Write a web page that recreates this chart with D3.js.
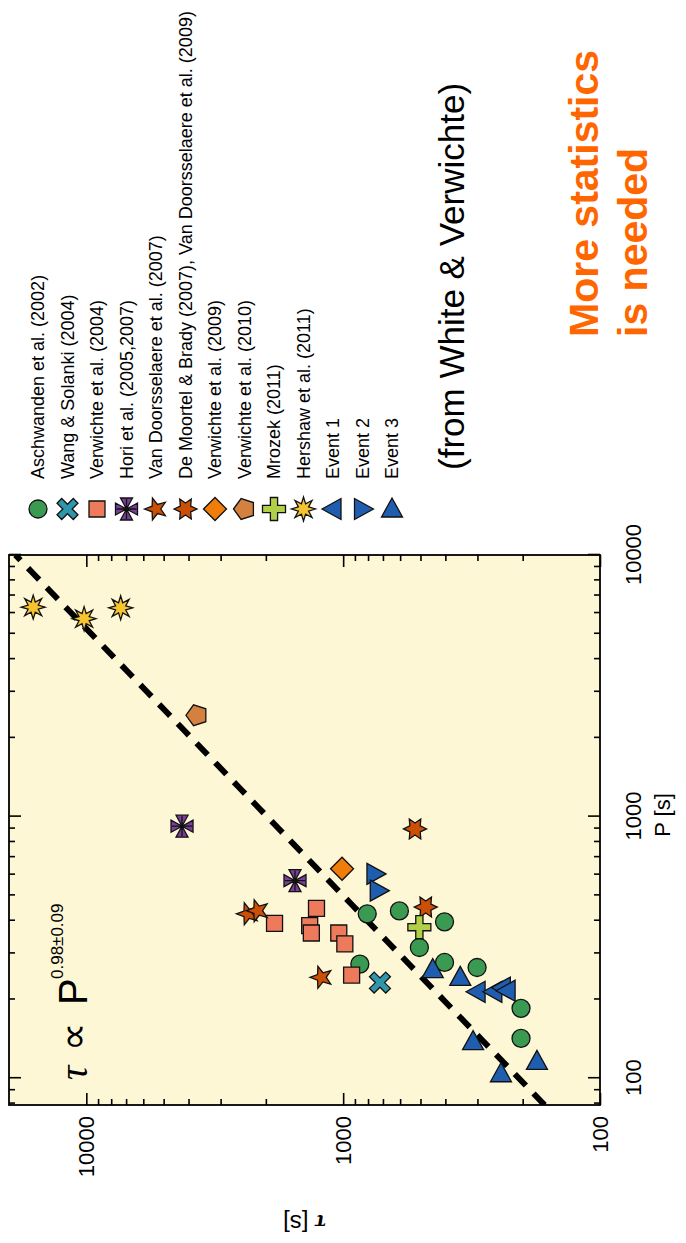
<!DOCTYPE html>
<html>
<head>
<meta charset="utf-8">
<script src="https://cdn.jsdelivr.net/npm/d3@7"></script>
<style>
body { margin: 0; background: #fff; }
svg { display: block; }
</style>
</head>
<body>
<div id="chart"></div>
<script>
// DATA: [P (s), tau (s)] pairs
const seriesNames = [
    "Aschwanden et al. (2002)",
    "Wang & Solanki (2004)",
    "Verwichte et al. (2004)",
    "Hori et al. (2005,2007)",
    "Van Doorsselaere et al. (2007)",
    "De Moortel & Brady (2007), Van Doorsselaere et al. (2009)",
    "Verwichte et al. (2009)",
    "Verwichte et al. (2010)",
    "Mrozek (2011)",
    "Hershaw et al. (2011)",
    "Event 1",
    "Event 2",
    "Event 3"
];
const aschwanden = [[425, 806], [436, 604], [396, 403], [316, 505], [273, 861], [277, 403], [265, 301], [185, 203], [142, 203]];
const wangSolanki = [[232, 719]];
const verwichte2004 = [[446, 1270], [391, 1850], [383, 1350], [359, 1330], [359, 1040], [326, 985], [248, 927]];
const hori = [[919, 4240], [569, 1540]];
const vanDoorsselaere2007 = [[425, 2350], [437, 2150], [243, 1215]];
const deMoortelBrady = [[897, 525], [451, 477]];
const verwichte2009 = [[632, 1010]];
const verwichte2010 = [[2440, 3710]];
const mrozek = [[378, 505]];
const hershaw = [[6320, 16100], [5710, 10200], [6280, 7350]];
const event1 = [[214, 301], [214, 259], [222, 240], [216, 230]];
const event2 = [[604, 752], [521, 730]];
const event3 = [[260, 448], [243, 350], [138, 312], [104, 243], [116, 176]];

const fitCoef = 2.27, fitExp = 0.98;   // tau = 2.27 * P^0.98
const pMajor = [100, 1000, 10000];
const pMinor = [80, 90, 200, 300, 400, 500, 600, 700, 800, 900, 2000, 3000, 4000, 5000, 6000, 7000, 8000, 9000];
const tauMajor = [100, 1000, 10000];
const tauMinor = [200, 300, 400, 500, 600, 700, 800, 900, 2000, 3000, 4000, 5000, 6000, 7000, 8000, 9000];

const allSeries = [aschwanden, wangSolanki, verwichte2004, hori, vanDoorsselaere2007, deMoortelBrady,
    verwichte2009, verwichte2010, mrozek, hershaw, event1, event2, event3];

// marker styles (shape, fill)
const markerStyle = [
    ["circle", "#3a9a52"], ["xcross", "#2f97ab"], ["square", "#ee7a5c"], ["maltese", "#7a3f98"],
    ["star5", "#cc4f06"], ["star6", "#cc4f06"], ["diamond", "#f07d0a"], ["pentagon", "#d4803e"],
    ["plus", "#b2cf48"], ["sun", "#f6c431"], ["triLeft", "#1f5eae"], ["triRight", "#1f5eae"], ["triUp", "#1f5eae"]
];

// SHAPES (drawn in screen orientation)
const poly = p => "M" + p.map(d => d[0].toFixed(2) + "," + d[1].toFixed(2)).join("L") + "Z";
function starPts(n, ro, ri, a0) {
    const p = [];
    for (let k = 0; k < 2 * n; k++) {
        const r = k % 2 ? ri : ro, a = a0 + k * Math.PI / n;
        p.push([r * Math.cos(a), r * Math.sin(a)]);
    }
    return p;
}
function plusPts(a, t) {
    return [[-t, -a], [t, -a], [t, -t], [a, -t], [a, t], [t, t], [t, a], [-t, a], [-t, t], [-a, t], [-a, -t], [-t, -t]];
}
function shapePath(s) {
    switch (s) {
        case "circle": return "M-9,0A9,9 0 1,1 9,0A9,9 0 1,1 -9,0Z";
        case "xcross": return poly(plusPts(11.5, 3.3).map(([x, y]) => [(x - y) * Math.SQRT1_2, (x + y) * Math.SQRT1_2]));
        case "square": return poly([[-8, -8], [8, -8], [8, 8], [-8, 8]]);
        case "maltese": return [0, 1, 2, 3].map(k => {
            const a = k * Math.PI / 2, c = Math.cos(a), s2 = Math.sin(a);
            const pts = [[0, 0], [11, -6], [11, 6]].map(([x, y]) => [x * c - y * s2, x * s2 + y * c]);
            return poly(pts);
        }).join("") + "M-10,0L10,0M0,-10L0,10";
        case "star5": return poly(starPts(5, 11.5, 4.8, Math.PI));
        case "star6": return poly(starPts(6, 11.5, 6, Math.PI));
        case "diamond": return poly([[-11.5, 0], [0, -11.5], [11.5, 0], [0, 11.5]]);
        case "pentagon": return poly(d3.range(5).map(k => [11 * Math.cos(Math.PI + k * 2 * Math.PI / 5), 11 * Math.sin(Math.PI + k * 2 * Math.PI / 5)]));
        case "plus": return poly(plusPts(11.5, 3.6));
        case "sun": return poly(starPts(8, 12, 5.5, 0));
        case "triLeft": return poly([[-11, 0], [8, -10.5], [8, 10.5]]);
        case "triRight": return poly([[11, 0], [-8, -10.5], [-8, 10.5]]);
        case "triUp": return poly([[0, -11], [10.5, 8], [-10.5, 8]]);
    }
}

// SVG
const W = 550, H = 591;   // unrotated plot: P along x, tau along y
const svg = d3.select("#chart").append("svg")
    .attr("width", 686)
    .attr("height", 1243);

// whole figure is turned 90 degrees counter-clockwise
const g = svg.append("g")
    .attr("transform", "translate(9,1105) rotate(-90)");

const xs = d3.scaleLog().domain([79, 10000]).range([0, W]);
const ys = d3.scaleLog().domain([100, 20000]).range([H, 0]);

g.append("clipPath").attr("id", "clip")
    .append("rect").attr("width", W).attr("height", H);

g.append("rect")
    .attr("width", W).attr("height", H)
    .attr("fill", "#fdf7d6");

// AXES (ticks point inward, mirrored on all sides)
function addAxis(axisFn, scale, values, size, tr, labels, pad) {
    const a = g.append("g")
        .attr("transform", tr)
        .call(axisFn(scale).tickValues(values).tickSize(-size).tickPadding(pad)
            .tickFormat(labels ? d3.format("d") : ""));
    a.select(".domain").remove();
    a.selectAll(".tick line").attr("stroke", "#000").attr("stroke-width", 1.6);
    a.selectAll(".tick text")
        .style("font-family", "'Liberation Sans', Arial, sans-serif")
        .style("font-size", "22px")
        .attr("fill", "#000");
    return a;
}
addAxis(d3.axisBottom, xs, pMajor, 12, `translate(0,${H})`, true, 25);
addAxis(d3.axisBottom, xs, pMinor, 6, `translate(0,${H})`, false, 0);
addAxis(d3.axisTop, xs, pMajor, 12, "translate(0,0)", false, 0);
addAxis(d3.axisTop, xs, pMinor, 6, "translate(0,0)", false, 0);
addAxis(d3.axisLeft, ys, tauMajor, 12, "translate(0,0)", true, 11);
addAxis(d3.axisLeft, ys, tauMinor, 6, "translate(0,0)", false, 0);
addAxis(d3.axisRight, ys, tauMajor, 12, `translate(${W},0)`, false, 0);
addAxis(d3.axisRight, ys, tauMinor, 6, `translate(${W},0)`, false, 0);

// axis titles
g.append("text")
    .attr("x", 290)
    .attr("y", H + 70)
    .attr("text-anchor", "middle")
    .style("font-family", "'Liberation Sans', Arial, sans-serif")
    .style("font-size", "22px")
    .text("P [s]");

g.append("text")
    .attr("transform", `translate(-110,${H / 2}) rotate(-90)`)
    .attr("text-anchor", "middle")
    .style("font-family", "'Liberation Sans', Arial, sans-serif")
    .style("font-size", "24px")
    .call(t => t.append("tspan").style("font-family", "'Liberation Serif', serif").style("font-style", "italic").style("font-weight", "bold").text("τ"))
    .call(t => t.append("tspan").text(" [s]"));

// FIT LINE
const fitP = d3.range(0, 101).map(i => 79 * Math.pow(10000 / 79, i / 100));
g.append("path")
    .datum(fitP)
    .attr("clip-path", "url(#clip)")
    .attr("d", d3.line().x(p => xs(p)).y(p => ys(fitCoef * Math.pow(p, fitExp))))
    .attr("fill", "none")
    .attr("stroke", "#000")
    .attr("stroke-width", 6)
    .attr("stroke-dasharray", "16,11");

// formula
const formula = g.append("text")
    .attr("y", 78)
    .style("font-family", "'Liberation Sans', Arial, sans-serif")
    .attr("fill", "#000");
formula.append("tspan").attr("x", 25).style("font-family", "'Liberation Serif', serif").style("font-style", "italic").style("font-size", "40px").text("τ");
formula.append("tspan").attr("x", 54).style("font-family", "'DejaVu Sans', sans-serif").style("font-size", "40px").text("∝");
formula.append("tspan").attr("x", 100).style("font-size", "40px").text("P");
formula.append("tspan").attr("x", 126).attr("dy", -24).style("font-size", "17px").text("0.98±0.09");

// POINTS
allSeries.forEach((series, i) => {
    g.append("g")
        .selectAll("path")
        .data(series)
        .enter()
        .append("path")
        .attr("transform", d => `translate(${xs(d[0])},${ys(d[1])}) rotate(90)`)
        .attr("d", shapePath(markerStyle[i][0]))
        .attr("fill", markerStyle[i][1])
        .attr("stroke", "#111")
        .attr("stroke-width", 1.3)
        .attr("stroke-linejoin", "miter");
});

// LEGEND (a column to the right of the unrotated plot)
const legend = g.selectAll("g.legend")
    .data(seriesNames)
    .enter()
    .append("g")
    .attr("class", "legend")
    .attr("transform", (d, i) => `translate(596,${29 + i * 29.5})`);

legend.append("path")
    .attr("transform", "rotate(90)")
    .attr("d", (d, i) => shapePath(markerStyle[i][0]))
    .attr("fill", (d, i) => markerStyle[i][1])
    .attr("stroke", "#111")
    .attr("stroke-width", 1.3);

legend.append("text")
    .attr("x", 30)
    .attr("dy", "0.36em")
    .style("font-family", "'Liberation Sans', Arial, sans-serif")
    .style("font-size", "18px")
    .text(d => d);

// NOTES
g.append("text")
    .attr("x", 635)
    .attr("y", 455)
    .style("font-family", "'Liberation Sans', Arial, sans-serif")
    .style("font-size", "35px")
    .text("(from White & Verwichte)");

const note = g.append("text")
    .attr("x", 768)
    .style("font-family", "'Liberation Sans', Arial, sans-serif")
    .style("font-size", "41px")
    .style("font-weight", "bold")
    .attr("fill", "#ff6600");
note.append("tspan").attr("x", 768).attr("y", 589).text("More statistics");
note.append("tspan").attr("x", 768).attr("y", 638).text("is needed");

// FRAME
g.append("rect")
    .attr("width", W).attr("height", H)
    .attr("fill", "none")
    .attr("stroke", "#000")
    .attr("stroke-width", 1.8);
</script>
</body>
</html>
